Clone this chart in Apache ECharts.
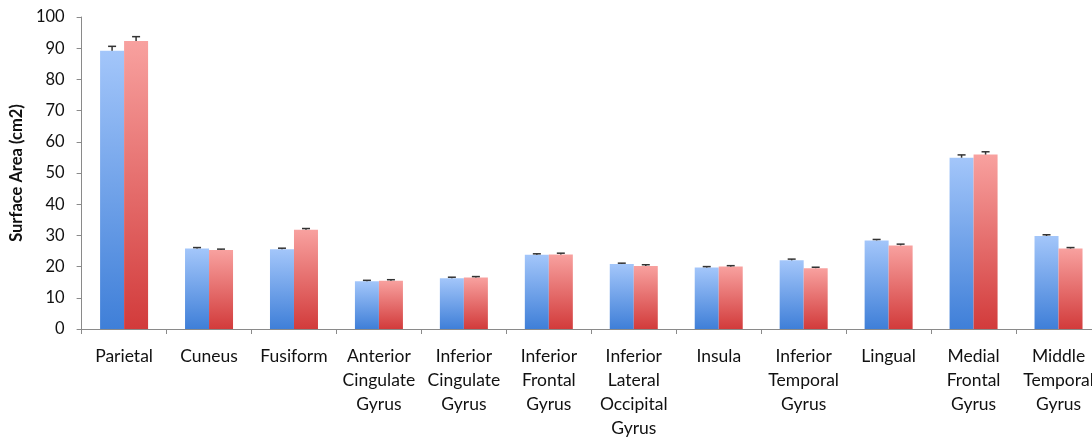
<!DOCTYPE html>
<html>
<head>
<meta charset="utf-8">
<script src="https://cdn.jsdelivr.net/npm/echarts@6/dist/echarts.min.js"></script>
<style>
  html, body { margin: 0; padding: 0; background: #fff; overflow: hidden; width: 1092px; height: 440px; }
  #chart { width: 1102px; height: 440px; }
</style>
</head>
<body>
<div id="chart"></div>
<script>
// regions, one bar pair each
var categories = ['Parietal', 'Cuneus', 'Fusiform', 'Anterior Cingulate Gyrus', 'Inferior Cingulate Gyrus',
  'Inferior Frontal Gyrus', 'Inferior Lateral Occipital Gyrus', 'Insula', 'Inferior Temporal Gyrus',
  'Lingual', 'Medial Frontal Gyrus', 'Middle Temporal Gyrus'];
var blueValues = [89.2, 25.8, 25.6, 15.3, 16.3, 23.8, 20.8, 19.7, 22.0, 28.4, 54.9, 29.8];
var redValues  = [92.3, 25.3, 31.8, 15.5, 16.5, 23.9, 20.2, 20.0, 19.5, 26.8, 55.9, 25.8];
var blueErrors = [1.4, 0.3, 0.3, 0.3, 0.3, 0.3, 0.3, 0.3, 0.4, 0.3, 0.9, 0.4];
var redErrors  = [1.4, 0.3, 0.4, 0.3, 0.3, 0.4, 0.4, 0.3, 0.3, 0.4, 0.9, 0.3];
var yTicks = [0, 10, 20, 30, 40, 50, 60, 70, 80, 90, 100];

var barW = 24;

function grad(top, bottom) {
    return new echarts.graphic.LinearGradient(0, 0, 0, 1, [
        { offset: 0, color: top },
        { offset: 1, color: bottom }
    ]);
}

// error bar: only the upper whisker with a cap
function errorSeries(values, errors, shift) {
    var data = values.map(function (v, i) { return [i, v, errors[i]]; });
    return {
        type: 'custom',
        z: 5,
        silent: true,
        data: data,
        renderItem: function (params, api) {
            var p0 = api.coord([api.value(0), api.value(1)]);
            var p1 = api.coord([api.value(0), api.value(1) + api.value(2)]);
            var x = p0[0] + shift;
            var style = { stroke: '#333', lineWidth: 1.5 };
            return {
                type: 'group',
                children: [
                    { type: 'line', shape: { x1: x, y1: p0[1], x2: x, y2: p1[1] }, style: style },
                    { type: 'line', shape: { x1: x - 4, y1: p1[1], x2: x + 4, y2: p1[1] }, style: style }
                ]
            };
        }
    };
}

var chart = echarts.init(document.getElementById('chart'));
chart.setOption({
    animation: false,
    textStyle: { fontFamily: 'Lato' },
    grid: { left: 81, right: 1, top: 17, bottom: 108, containLabel: false },
    xAxis: {
        type: 'category',
        data: categories,
        axisLine: { lineStyle: { color: '#8a8a8a', width: 1 } },
        axisTick: { show: true, length: 5, lineStyle: { color: '#8a8a8a' } },
        axisLabel: {
            interval: 0,
            color: '#111',
            fontSize: 17.5,
            lineHeight: 24,
            margin: 15,
            formatter: function (v) { return v.split(' ').join('\n'); }
        }
    },
    yAxis: {
        type: 'value',
        min: yTicks[0],
        max: yTicks[yTicks.length - 1],
        interval: 10,
        name: 'Surface Area (cm2)',
        nameLocation: 'middle',
        nameGap: 53,
        nameTextStyle: { fontSize: 16.5, fontWeight: 'bold', color: '#111' },
        axisLine: { show: true, lineStyle: { color: '#8a8a8a', width: 1 } },
        axisTick: { show: true, length: 5, lineStyle: { color: '#8a8a8a' } },
        axisLabel: { color: '#111', fontSize: 16.5, margin: 17 },
        splitLine: { show: false }
    },
    series: [
        {
            type: 'bar',
            data: blueValues,
            barWidth: barW,
            barGap: '0%',
            itemStyle: { color: grad('#a3c6fa', '#3f7fd8') }
        },
        {
            type: 'bar',
            data: redValues,
            barWidth: barW,
            barGap: '0%',
            itemStyle: { color: grad('#f8a19f', '#d23b3b') }
        },
        errorSeries(blueValues, blueErrors, -barW / 2),
        errorSeries(redValues, redErrors, barW / 2)
    ]
});
</script>
</body>
</html>
